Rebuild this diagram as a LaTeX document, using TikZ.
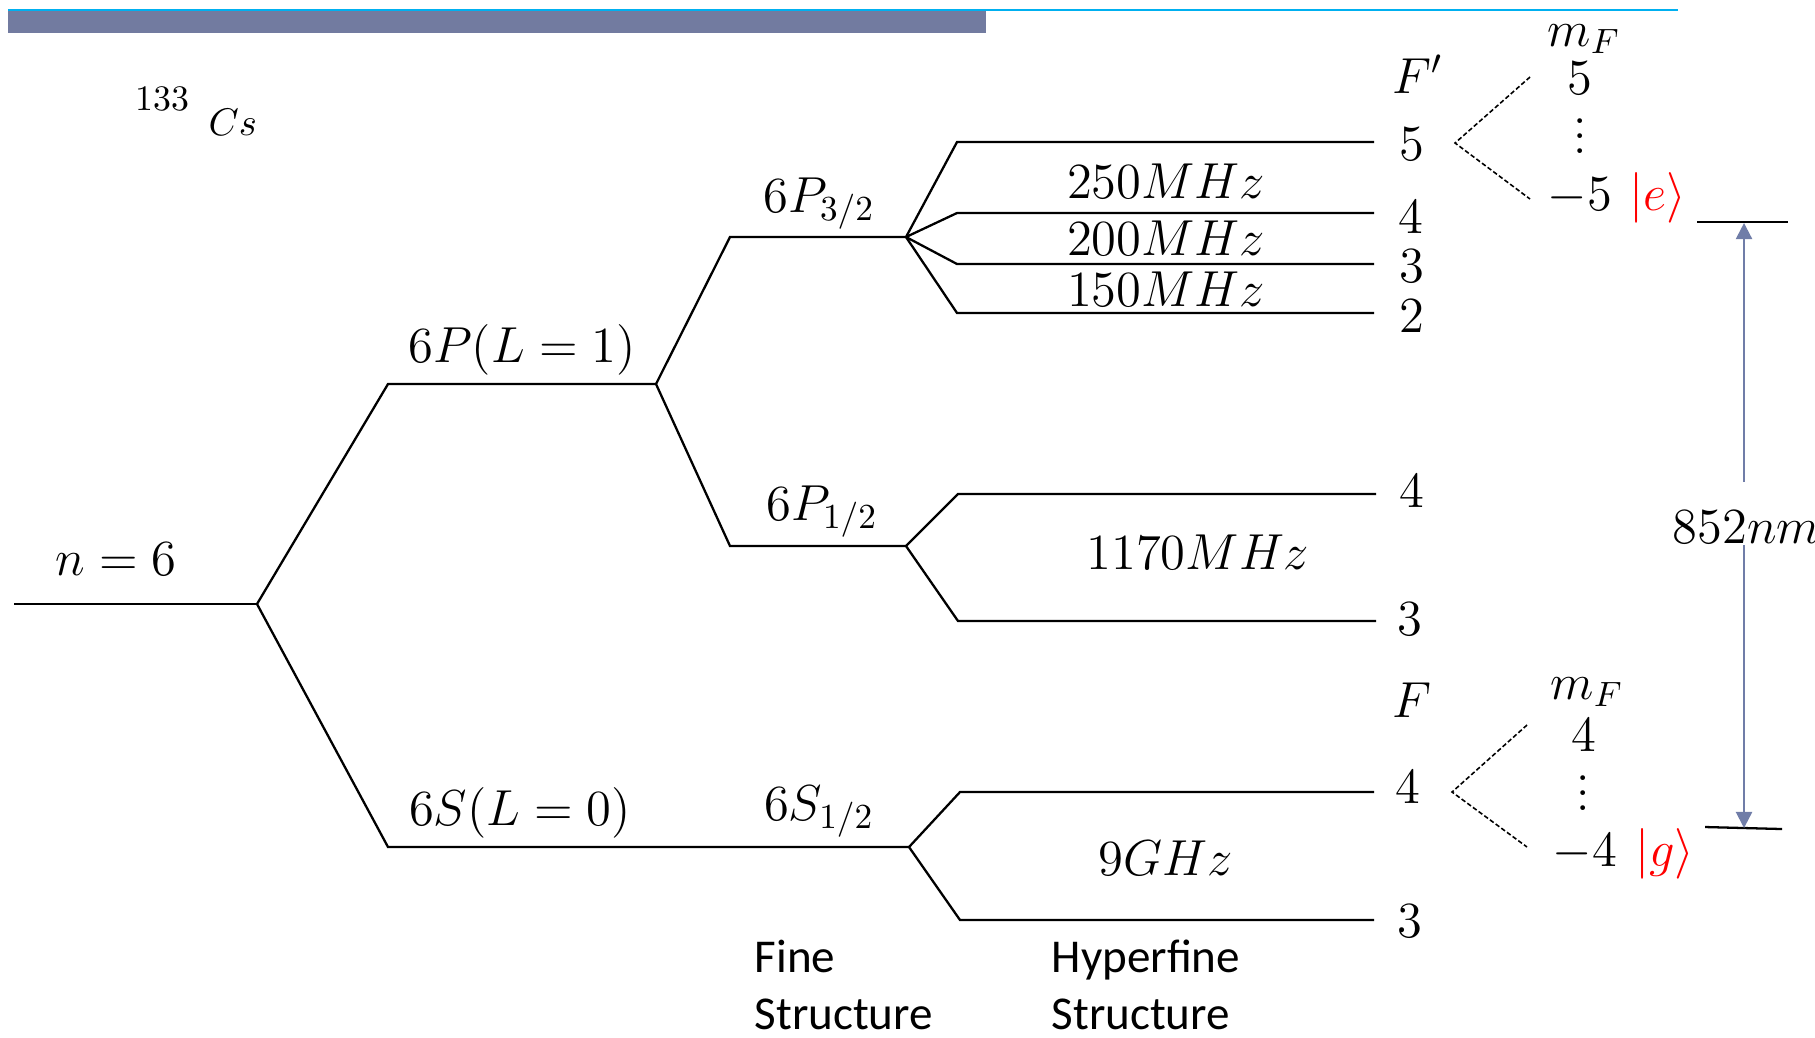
\documentclass[tikz,border=0pt]{standalone}
\usepackage{fontspec}
\newfontfamily\calib{Carlito}
\usetikzlibrary{arrows.meta}
\definecolor{barblue}{RGB}{0,176,240}
\definecolor{bargray}{RGB}{114,123,160}
\definecolor{arrowgray}{RGB}{112,125,168}
\definecolor{stred}{RGB}{255,0,0}
\newcommand\myvdots{\vbox{\baselineskip4.2pt\lineskiplimit0pt\hbox{.}\hbox{.}\hbox{.}}}
\begin{document}
\begin{tikzpicture}[x=0.1mm,y=-0.1mm,
  lvl/.style={line width=0.65pt, line join=miter},
  dsh/.style={line width=0.45pt, dash pattern=on 1.3pt off 0.7pt},
  lbl/.style={font=\fontsize{14}{17}\selectfont, inner sep=0pt, anchor=base},
  sans/.style={font=\calib\fontsize{13.4}{16.2}\selectfont, inner sep=0pt, anchor=base west, align=left},
  arr/.style={draw=arrowgray, line width=0.6pt, -{Triangle[width=4.6pt,length=4.6pt]}, color=arrowgray}
]
\useasboundingbox (0,0) rectangle (1815,1037);
% top bar
\fill[bargray] (8,11) rectangle (986,33);
\draw[barblue, line width=0.6pt] (8,10) -- (1678,10);

% level coordinates
\coordinate (n6L) at (14,604);   \coordinate (n6R) at (257,604);
\coordinate (PL) at (388,384);   \coordinate (PR) at (656,384);
\coordinate (SL) at (388,847);   \coordinate (SR) at (909,847);
\coordinate (P32L) at (730,237); \coordinate (P32R) at (906,237);
\coordinate (P12L) at (730,546); \coordinate (P12R) at (906,546);
\coordinate (h5L) at (957,142);  \coordinate (h5R) at (1374,142);
\coordinate (h4L) at (957,213);  \coordinate (h4R) at (1374,213);
\coordinate (h3L) at (957,264);  \coordinate (h3R) at (1374,264);
\coordinate (h2L) at (957,313);  \coordinate (h2R) at (1374,313);
\coordinate (p4L) at (958,494);  \coordinate (p4R) at (1376,494);
\coordinate (p3L) at (958,621);  \coordinate (p3R) at (1376,621);
\coordinate (s4L) at (960,792);  \coordinate (s4R) at (1374,792);
\coordinate (s3L) at (960,920);  \coordinate (s3R) at (1374,920);

\draw[lvl] (n6L) -- (n6R);
\draw[lvl] (n6R) -- (PL) -- (PR);
\draw[lvl] (n6R) -- (SL) -- (SR);
\draw[lvl] (PR) -- (P32L) -- (P32R);
\draw[lvl] (PR) -- (P12L) -- (P12R);
\draw[lvl] (P32R) -- (h5L) -- (h5R);
\draw[lvl] (P32R) -- (h4L) -- (h4R);
\draw[lvl] (P32R) -- (h3L) -- (h3R);
\draw[lvl] (P32R) -- (h2L) -- (h2R);
\draw[lvl] (P12R) -- (p4L) -- (p4R);
\draw[lvl] (P12R) -- (p3L) -- (p3R);
\draw[lvl] (SR) -- (s4L) -- (s4R);
\draw[lvl] (SR) -- (s3L) -- (s3R);

% isotope
\node[anchor=base west, inner sep=0pt, font=\fontsize{10.2}{12}\selectfont] (iso) at (135,110) {133};
\node[anchor=base west, inner sep=0pt, font=\fontsize{10.5}{12}\selectfont] (cs) at (208,135) {$Cs$};

% level labels
\node[lbl] (tn6) at (116,575) {$n=6$};
\node[lbl] (t6P) at (522,362) {$6P(L=1)$};
\node[lbl] (t6S) at (520,825) {$6S(L=0)$};
\node[lbl] (tP32) at (819,212) {$6P_{3/2}$};
\node[lbl] (tP12) at (822,520) {$6P_{1/2}$};
\node[lbl] (tS12) at (819,820) {$6S_{1/2}$};

% splittings
\node[lbl] (f250) at (1166,198) {$250MHz$};
\node[lbl] (f200) at (1166,255) {$200MHz$};
\node[lbl] (f150) at (1166,306) {$150MHz$};
\node[lbl] (f1170) at (1198,569) {$1170MHz$};
\node[lbl] (f9) at (1166,875) {$9GHz$};

% F quantum numbers
\node[lbl] (Fp) at (1418,93) {$F'$};
\node[lbl] (q5) at (1412,160) {$5$};
\node[lbl] (q4) at (1411,233) {$4$};
\node[lbl] (q3) at (1412,282) {$3$};
\node[lbl] (q2) at (1412,332) {$2$};
\node[lbl] (r4) at (1412,507) {$4$};
\node[lbl] (r3) at (1410,635) {$3$};
\node[lbl] (Fg) at (1412,717) {$F$};
\node[lbl] (g4) at (1408,803) {$4$};
\node[lbl] (g3) at (1410,937) {$3$};

% mF upper
\node[lbl] (mFe) at (1584,46) {$m_F$};
\node[lbl] (me5) at (1580,94) {$5$};
\node[lbl] (medots) at (1580,153) {\myvdots};
\node[lbl] (mem5) at (1580,210) {$-5$};
\node[lbl, text=stred] (ket e) at (1658,210) {$|e\rangle$};
% mF lower
\node[lbl] (mFg) at (1587,699) {$m_F$};
\node[lbl] (mg4) at (1584,751) {$4$};
\node[lbl] (mgdots) at (1583,810) {\myvdots};
\node[lbl] (mgm4) at (1585,866) {$-4$};
\node[lbl, text=stred] (ket g) at (1665,866) {$|g\rangle$};

% dashed fans
\coordinate (eV) at (1455,143); \coordinate (eT) at (1530,77); \coordinate (eB) at (1530,199);
\coordinate (gV) at (1452,792); \coordinate (gT) at (1527,725); \coordinate (gB) at (1527,847);
\draw[dsh] (eT) -- (eV) -- (eB);
\draw[dsh] (gT) -- (gV) -- (gB);

% transition
\coordinate (eLL) at (1697,222); \coordinate (eLR) at (1788,222);
\coordinate (gLL) at (1705,827); \coordinate (gLR) at (1782,829);
\draw[lvl] (eLL) -- (eLR);
\draw[lvl] (gLL) -- (gLR);
\coordinate (eArr) at (1744,223);
\coordinate (gArr) at (1744,828);
\coordinate (gapTop) at (1744,482);
\coordinate (gapBot) at (1744,545);
\draw[arr] (gapTop) -- (eArr);
\draw[arr] (gapBot) -- (gArr);
\node[lbl, anchor=base west] (wl) at (1672,543) {$852nm$};

% bottom captions
\node[sans] (fine) at (754,1029) {Fine\\Structure};
\node[sans] (hyp) at (1051,1029) {Hyperfine\\Structure};
\end{tikzpicture}
\end{document}
